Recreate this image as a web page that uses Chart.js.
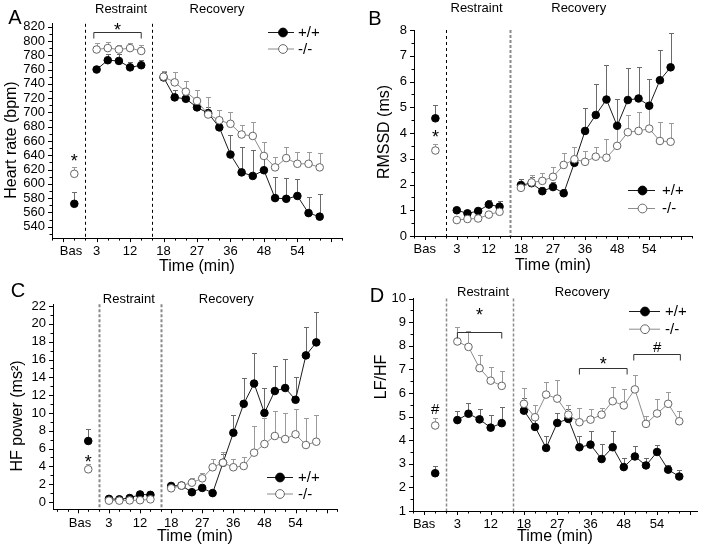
<!DOCTYPE html>
<html><head><meta charset="utf-8">
<script src="https://cdn.jsdelivr.net/npm/chart.js@4.4.1/dist/chart.umd.min.js"></script>
<style>
html,body{margin:0;padding:0;background:#fff;}
#wrap{position:relative;width:705px;height:552px;overflow:hidden;background:#fff;}
canvas{position:absolute;}
</style></head><body>
<div id="wrap">
<canvas id="cA" width="352" height="276" style="left:0;top:0"></canvas>
<canvas id="cB" width="353" height="276" style="left:352px;top:0"></canvas>
<canvas id="cC" width="352" height="276" style="left:0;top:276px"></canvas>
<canvas id="cD" width="353" height="276" style="left:352px;top:276px"></canvas>
</div>
<script>
// ---------------- DATA ----------------
const xTickLabels = ['Bas', '3', '12', '18', '27', '36', '48', '54', ''];
const restraintMinutes = [3, 6, 9, 12, 15];
const recoveryMinutes = [18, 21, 24, 27, 30, 33, 36, 39, 42, 45, 48, 51, 54, 57, 60];
const seriesNames = ['+/+', '-/-'];

// A: Heart rate (bpm)
const hrWT_bas = 572, hrWT_basSem = 17;
const hrWT_restraint = [760, 773, 772, 763, 766];
const hrWT_restraintSem = [5, 9, 10, 7, 8];
const hrWT_recovery = [749, 721, 719, 707, 699, 679, 641, 616, 611, 619, 580, 579, 583, 559, 554];
const hrWT_recoverySem = [8, 10, 11, 10, 9, 25, 28, 35, 36, 40, 29, 29, 24, 23, 32];
const hrKO_bas = 614, hrKO_basSem = 10;
const hrKO_restraint = [788, 790, 788, 790, 786];
const hrKO_restraintSem = [9, 8, 7, 7, 8];
const hrKO_recovery = [750, 742, 729, 716, 697, 689, 684, 669, 667, 639, 623, 636, 628, 628, 623];
const hrKO_recoverySem = [8, 14, 15, 15, 24, 14, 16, 14, 19, 20, 15, 16, 17, 17, 20];

// B: RMSSD (ms)
const rmWT_bas = 4.57, rmWT_basSem = 0.5;
const rmWT_restraint = [1.0, 0.88, 0.97, 1.22, 1.14];
const rmWT_restraintSem = [0.1, 0.1, 0.1, 0.18, 0.22];
const rmWT_recovery = [1.98, 2.05, 1.74, 1.9, 1.66, 2.84, 4.08, 4.7, 5.3, 4.28, 5.28, 5.34, 5.06, 6.05, 6.55];
const rmWT_recoverySem = [0.25, 0.25, 0.17, 0.2, 0.15, 0.6, 0.88, 1.2, 1.34, 1.03, 1.24, 1.21, 1.03, 1.17, 1.32];
const rmKO_bas = 3.32, rmKO_basSem = 0.27;
const rmKO_restraint = [0.62, 0.66, 0.68, 0.83, 0.94];
const rmKO_restraintSem = [0.05, 0.05, 0.06, 0.07, 0.08];
const rmKO_recovery = [1.87, 2.08, 2.14, 2.3, 2.76, 2.98, 2.88, 3.08, 3.04, 3.5, 4.03, 4.08, 4.17, 3.69, 3.66];
const rmKO_recoverySem = [0.1, 0.28, 0.31, 0.39, 0.45, 0.46, 0.43, 0.36, 0.72, 0.79, 0.65, 0.72, 0.84, 0.73, 0.72];

// C: HF power (ms²)
const hfWT_bas = 6.85, hfWT_basSem = 1.3;
const hfWT_restraint = [0.35, 0.3, 0.45, 0.85, 0.8];
const hfWT_restraintSem = [0.1, 0.1, 0.12, 0.15, 0.15];
const hfWT_recovery = [1.8, 1.85, 1.1, 1.58, 1.0, 4.4, 7.77, 11.02, 13.3, 10.0, 12.46, 12.8, 11.48, 16.46, 17.92];
const hfWT_recoverySem = [0.3, 0.2, 0.3, 0.35, 0.2, 1.0, 2.0, 2.85, 3.39, 2.77, 2.84, 3.24, 2.59, 3.14, 3.44];
const hfKO_bas = 3.67, hfKO_basSem = 0.56;
const hfKO_restraint = [0.15, 0.15, 0.18, 0.2, 0.3];
const hfKO_restraintSem = [0.05, 0.05, 0.05, 0.05, 0.05];
const hfKO_recovery = [1.54, 1.84, 2.17, 2.66, 3.9, 4.42, 3.9, 4.04, 5.54, 6.51, 7.41, 7.07, 7.6, 6.4, 6.77];
const hfKO_recoverySem = [0.15, 0.15, 0.49, 0.56, 0.89, 1.23, 0.89, 1.05, 2.99, 2.96, 2.8, 2.96, 2.8, 2.99, 3.0];

// D: LF/HF
const lfWT_bas = 2.6, lfWT_basSem = 0.32;
const lfWT_restraint = [4.85, 5.12, 4.88, 4.53, 4.72];
const lfWT_restraintSem = [0.38, 0.46, 0.44, 0.55, 0.68];
const lfWT_recovery = [5.25, 4.56, 3.67, 4.73, 4.9, 3.7, 3.81, 3.2, 3.7, 2.86, 3.31, 2.93, 3.5, 2.75, 2.46];
const lfWT_recoverySem = [0.55, 0.53, 0.52, 0.43, 0.4, 0.46, 0.57, 0.65, 0.68, 0.38, 0.43, 0.31, 0.31, 0.18, 0.29];
const lfKO_bas = 4.62, lfKO_basSem = 0.34;
const lfKO_restraint = [8.18, 7.95, 7.05, 6.52, 6.3];
const lfKO_restraintSem = [0.6, 0.67, 0.57, 0.6, 0.65];
const lfKO_recovery = [5.54, 4.97, 5.93, 5.76, 5.08, 4.76, 4.87, 5.08, 5.65, 5.47, 6.15, 4.69, 5.13, 5.54, 4.8];
const lfKO_recoverySem = [0.68, 0.51, 0.54, 0.77, 0.4, 0.61, 0.47, 0.29, 0.6, 0.68, 0.63, 0.35, 0.63, 0.51, 0.43];

// Significance marks: [x slot, y value, symbol]; brackets: [x1, x2, y, symbol, symbol y]
const sigA_marks = [[-1, 638, '*']];
const sigA_brackets = [[0.75, 5, 812, '*', 821]];
const sigB_marks = [[-1, 4.0, '*']];
const sigC_marks = [[-1, 5.0, '*']];
const sigD_marks = [[-1, 5.33, '#']];
const sigD_brackets = [[1, 5, 8.56, '*', 9.5], [12, 16.3, 7.07, '*', 7.42], [16.9, 21.1, 7.63, '#', 7.96]];

// ---------------- HELPERS ----------------
const FONT = 'Arial, "Liberation Sans", sans-serif';
const slotBas = -1;
const slotRestraint = m => m / 3;
const slotRecovery = m => m / 3 + 1;
const xMajorTicks = xTickLabels.map((_, i) => -2 + 3 * i);

function seriesPoints(bas, restraint, recovery) {
  const pts = [{x: slotBas, y: bas}, {x: 0, y: null}];
  restraintMinutes.forEach((m, i) => pts.push({x: slotRestraint(m), y: restraint[i]}));
  pts.push({x: 6, y: null});
  recoveryMinutes.forEach((m, i) => pts.push({x: slotRecovery(m), y: recovery[i]}));
  return pts;
}
function seriesErrors(bas, restraint, recovery) {
  return [bas, null, ...restraint, null, ...recovery];
}

const STYLE_WT = {line: '#1a1a1a', fill: '#000', border: '#000', err: '#6a6a6a'};
const STYLE_KO = {line: '#8c8c8c', fill: '#fff', border: '#666', err: '#9a9a9a'};

function makeDataset(name, st, pts, errs, order) {
  return {
    label: name, data: pts, errors: errs, errColor: st.err,
    borderColor: st.line, borderWidth: 1, tension: 0, spanGaps: false,
    pointRadius: 3.8, pointBackgroundColor: st.fill, pointBorderColor: st.border,
    pointBorderWidth: 1, order: order, fill: false
  };
}

function text(ctx, s, x, y, size, opts = {}) {
  ctx.save();
  ctx.font = (opts.weight ? opts.weight + ' ' : '') + size + 'px ' + FONT;
  ctx.fillStyle = opts.color || '#000';
  ctx.textAlign = opts.align || 'center';
  ctx.textBaseline = opts.baseline || 'middle';
  if (opts.rotate) { ctx.translate(x, y); ctx.rotate(opts.rotate); ctx.fillText(s, 0, 0); }
  else ctx.fillText(s, x, y);
  ctx.restore();
}
function symbolAt(ctx, s, x, yc, size) {
  const k = s === '*' ? 0.58 : 0.36;
  text(ctx, s, x, yc + k * size, size, {baseline: 'alphabetic'});
}

const panelPlugin = {
  id: 'panelPlugin',
  beforeDatasetsDraw(chart) {
    const P = chart.config.options.panel;
    const {ctx, chartArea: a, scales: {x, y}} = chart;
    [P.div1, P.div2].forEach((d, i) => {
      const px = Math.round(x.getPixelForValue(i === 0 ? 0 : 6)) + 0.5;
      ctx.save(); ctx.strokeStyle = d.color; ctx.lineWidth = d.width; ctx.setLineDash(d.dash);
      ctx.beginPath(); ctx.moveTo(px, a.top); ctx.lineTo(px, a.bottom); ctx.stroke(); ctx.restore();
    });
    chart.data.datasets.forEach(ds => {
      ctx.save(); ctx.strokeStyle = ds.errColor; ctx.lineWidth = 1;
      ds.data.forEach((p, i) => {
        const e = ds.errors[i];
        if (p.y == null || e == null) return;
        const px = Math.round(x.getPixelForValue(p.x)) + 0.5;
        const y0 = y.getPixelForValue(p.y), y1 = Math.round(y.getPixelForValue(p.y + e)) + 0.5;
        ctx.beginPath(); ctx.moveTo(px, y0); ctx.lineTo(px, y1);
        ctx.moveTo(px - 2.5, y1); ctx.lineTo(px + 2.5, y1); ctx.stroke();
      });
      ctx.restore();
    });
  },
  afterDraw(chart) {
    const P = chart.config.options.panel;
    const {ctx, chartArea: a, scales: {x, y}} = chart;
    ctx.save(); ctx.strokeStyle = '#000'; ctx.lineWidth = 1;
    for (let u = Math.ceil(P.xMin); u <= Math.floor(P.xMax); u++) {
      const major = ((u + 2) % 3 === 0);
      const px = Math.round(x.getPixelForValue(u)) + 0.5;
      ctx.beginPath(); ctx.moveTo(px, a.bottom); ctx.lineTo(px, a.bottom + (major ? 4 : 2.5)); ctx.stroke();
    }
    const start = Math.ceil(P.yMin / P.yMinor - 1e-9);
    for (let k = start; k * P.yMinor <= P.yMax + 1e-9; k++) {
      const v = k * P.yMinor;
      const r = v / P.yMajor;
      const major = Math.abs(r - Math.round(r)) < 1e-6;
      const py = Math.round(y.getPixelForValue(v)) + 0.5;
      ctx.beginPath(); ctx.moveTo(a.left, py); ctx.lineTo(a.left - (major ? 4 : 2.5), py); ctx.stroke();
    }
    ctx.restore();
    (P.brackets || []).forEach(b => {
      const x1 = x.getPixelForValue(b[0]), x2 = x.getPixelForValue(b[1]);
      const yb = Math.round(y.getPixelForValue(b[2])) + 0.5;
      ctx.save(); ctx.strokeStyle = '#333'; ctx.lineWidth = 1;
      ctx.beginPath(); ctx.moveTo(x1, yb + 6); ctx.lineTo(x1, yb); ctx.lineTo(x2, yb); ctx.lineTo(x2, yb + 6); ctx.stroke();
      ctx.restore();
      symbolAt(ctx, b[3], (x1 + x2) / 2, y.getPixelForValue(b[4]), b[3] === '*' ? 18 : 15);
    });
    (P.marks || []).forEach(m => {
      symbolAt(ctx, m[2], x.getPixelForValue(m[0]), y.getPixelForValue(m[1]), m[2] === '*' ? 18 : 15);
    });
    text(ctx, P.letter, P.letterPos[0], P.letterPos[1], 20);
    text(ctx, 'Restraint', P.restraintPos[0], P.restraintPos[1], 13);
    text(ctx, 'Recovery', P.recoveryPos[0], P.recoveryPos[1], 13);
    text(ctx, P.yTitle, P.yTitlePos[0], P.yTitlePos[1], 16, {rotate: -Math.PI / 2});
    text(ctx, 'Time (min)', P.xTitlePos[0], P.xTitlePos[1], 16);
    const L = P.legend;
    [[STYLE_WT, L.y1, seriesNames[0]], [STYLE_KO, L.y2, seriesNames[1]]].forEach(([st, ly, name]) => {
      ctx.save(); ctx.strokeStyle = st.line; ctx.lineWidth = 1;
      ctx.beginPath(); ctx.moveTo(L.x1, ly + 0.5); ctx.lineTo(L.x2, ly + 0.5); ctx.stroke();
      ctx.beginPath(); ctx.arc(L.xm, ly + 0.5, 4.4, 0, Math.PI * 2);
      ctx.fillStyle = st.fill; ctx.fill(); ctx.strokeStyle = st.border; ctx.stroke();
      ctx.restore();
      text(ctx, name, L.xt, ly + 1, 15, {align: 'left'});
    });
  }
};

function makeChart(P, datasets) {
  const W = P.W, H = P.H, B = P.box;
  // label positions: the "Bas" label sits at a panel-specific offset, others on the major ticks
  const labelSlots = xMajorTicks.map((v, i) => i === 0 ? P.basLabelSlot : v);
  return new Chart(document.getElementById(P.id), {
    type: 'line',
    data: {datasets},
    plugins: [panelPlugin],
    options: {
      panel: P,
      responsive: false, animation: false, events: [],
      layout: {padding: {left: 0, top: B.top, right: W - B.right, bottom: 0}},
      plugins: {legend: {display: false}, tooltip: {enabled: false}},
      scales: {
        x: {
          type: 'linear', min: P.xMin, max: P.xMax,
          afterBuildTicks: s => { s.ticks = labelSlots.map(v => ({value: v})); },
          afterFit: s => { s.height = H - B.bottom; },
          ticks: {autoSkip: false, maxRotation: 0, minRotation: 0, padding: 2, color: '#000',
                  font: {family: FONT, size: 13},
                  callback: (v, i) => xTickLabels[i] !== undefined ? xTickLabels[i] : ''},
          grid: {display: true, drawOnChartArea: false, drawTicks: true, tickLength: 4, tickColor: 'rgba(0,0,0,0)'},
          border: {display: true, color: '#000', width: 1}
        },
        y: {
          type: 'linear', min: P.yMin, max: P.yMax,
          afterBuildTicks: s => {
            const t = [];
            for (let v = P.yFirst; v <= P.yLast + 1e-9; v += P.yMajor) t.push({value: +v.toFixed(6)});
            s.ticks = t;
          },
          afterFit: s => { s.width = B.left; },
          ticks: {autoSkip: false, padding: 3, color: '#000', font: {family: FONT, size: 13},
                  callback: v => String(+v.toFixed(6))},
          grid: {display: true, drawOnChartArea: false, drawTicks: true, tickLength: 4, tickColor: 'rgba(0,0,0,0)'},
          border: {display: true, color: '#000', width: 1}
        }
      }
    }
  });
}

const DIV_BLACK = {color: '#000', width: 1, dash: [3, 3]};
const DIV_GREY = {color: '#8a8a8a', width: 2, dash: [3, 2]};
const DIV_GREY_THIN = {color: '#8a8a8a', width: 1.5, dash: [3, 2]};

// Panel A
makeChart({
  id: 'cA', W: 352, H: 276, box: {left: 52, right: 342, top: 23.8, bottom: 238.1},
  xMin: -3, xMax: 23, yMin: 524, yMax: 824, yFirst: 540, yLast: 820, yMajor: 20, yMinor: 10,
  basLabelSlot: -1.3,
  letter: 'A', letterPos: [15, 18], yTitle: 'Heart rate (bpm)', yTitlePos: [12, 140],
  xTitlePos: [197, 267], restraintPos: [121, 9.5], recoveryPos: [217, 9.5],
  div1: DIV_BLACK, div2: DIV_BLACK,
  legend: {y1: 32, y2: 48.5, x1: 268, x2: 294, xm: 283, xt: 298},
  marks: sigA_marks, brackets: sigA_brackets
}, [
  makeDataset(seriesNames[0], STYLE_WT, seriesPoints(hrWT_bas, hrWT_restraint, hrWT_recovery), seriesErrors(hrWT_basSem, hrWT_restraintSem, hrWT_recoverySem), 2),
  makeDataset(seriesNames[1], STYLE_KO, seriesPoints(hrKO_bas, hrKO_restraint, hrKO_recovery), seriesErrors(hrKO_basSem, hrKO_restraintSem, hrKO_recoverySem), 1)
]);

// Panel B
makeChart({
  id: 'cB', W: 353, H: 276, box: {left: 62, right: 340, top: 30, bottom: 236},
  xMin: -3, xMax: 23, yMin: 0, yMax: 8, yFirst: 0, yLast: 8, yMajor: 1, yMinor: 0.5,
  basLabelSlot: -2,
  letter: 'B', letterPos: [23, 19], yTitle: 'RMSSD (ms)', yTitlePos: [33, 132],
  xTitlePos: [201, 266], restraintPos: [124.5, 8.5], recoveryPos: [226.7, 8.5],
  div1: DIV_BLACK, div2: DIV_GREY,
  legend: {y1: 190, y2: 208, x1: 276, x2: 303, xm: 290.5, xt: 310},
  marks: sigB_marks
}, [
  makeDataset(seriesNames[0], STYLE_WT, seriesPoints(rmWT_bas, rmWT_restraint, rmWT_recovery), seriesErrors(rmWT_basSem, rmWT_restraintSem, rmWT_recoverySem), 2),
  makeDataset(seriesNames[1], STYLE_KO, seriesPoints(rmKO_bas, rmKO_restraint, rmKO_recovery), seriesErrors(rmKO_basSem, rmKO_restraintSem, rmKO_recoverySem), 1)
]);

// Panel C
makeChart({
  id: 'cC', W: 352, H: 276, box: {left: 53, right: 337, top: 28.3, bottom: 233.3},
  xMin: -4.4, xMax: 23, yMin: -0.82, yMax: 22.2, yFirst: 0, yLast: 22, yMajor: 2, yMinor: 1,
  basLabelSlot: -1.8,
  letter: 'C', letterPos: [18, 15], yTitle: 'HF power (ms²)', yTitlePos: [18, 140],
  xTitlePos: [195, 261], restraintPos: [128.8, 23.3], recoveryPos: [226.3, 23.3],
  div1: DIV_GREY, div2: DIV_GREY,
  legend: {y1: 201, y2: 217.5, x1: 267, x2: 293, xm: 280, xt: 298},
  marks: sigC_marks
}, [
  makeDataset(seriesNames[0], STYLE_WT, seriesPoints(hfWT_bas, hfWT_restraint, hfWT_recovery), seriesErrors(hfWT_basSem, hfWT_restraintSem, hfWT_recoverySem), 2),
  makeDataset(seriesNames[1], STYLE_KO, seriesPoints(hfKO_bas, hfKO_restraint, hfKO_recovery), seriesErrors(hfKO_basSem, hfKO_restraintSem, hfKO_recoverySem), 1)
]);

// Panel D
makeChart({
  id: 'cD', W: 353, H: 276, box: {left: 61, right: 345, top: 22.5, bottom: 235},
  xMin: -3, xMax: 22.6, yMin: 1, yMax: 10, yFirst: 1, yLast: 10, yMajor: 1, yMinor: 0.5,
  basLabelSlot: -2,
  letter: 'D', letterPos: [25, 20], yTitle: 'LF/HF', yTitlePos: [30, 101],
  xTitlePos: [203, 261], restraintPos: [131, 16], recoveryPos: [230.3, 16],
  div1: DIV_GREY_THIN, div2: DIV_GREY_THIN,
  legend: {y1: 35, y2: 52.7, x1: 277, x2: 308, xm: 293, xt: 313},
  marks: sigD_marks, brackets: sigD_brackets
}, [
  makeDataset(seriesNames[0], STYLE_WT, seriesPoints(lfWT_bas, lfWT_restraint, lfWT_recovery), seriesErrors(lfWT_basSem, lfWT_restraintSem, lfWT_recoverySem), 2),
  makeDataset(seriesNames[1], STYLE_KO, seriesPoints(lfKO_bas, lfKO_restraint, lfKO_recovery), seriesErrors(lfKO_basSem, lfKO_restraintSem, lfKO_recoverySem), 1)
]);
</script>
</body></html>
